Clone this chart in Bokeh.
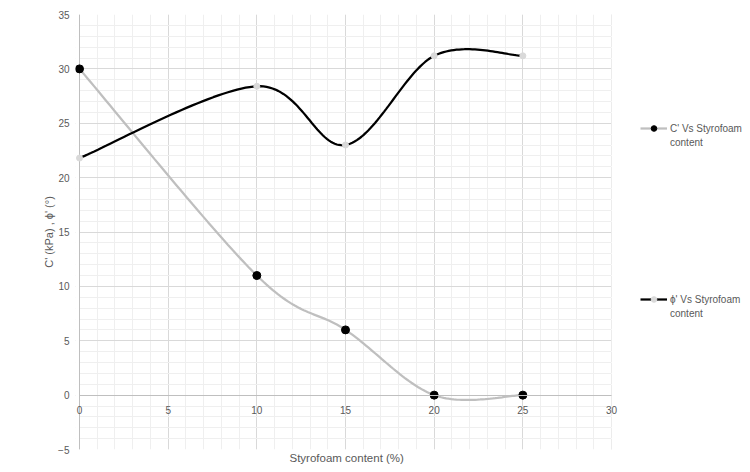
import numpy as np
from bokeh.plotting import figure
from bokeh.models import (SingleIntervalTicker, Range1d, Legend, LegendItem, Title,
                          BoxAnnotation, Span)
from bokeh.embed import file_html
from bokeh.resources import INLINE

# ---- data ----
content = [0, 10, 15, 20, 25]
c_values = [30, 11, 6, 0, 0]
phi_values = [21.8, 28.4, 23.0, 31.2, 31.2]
c_label = "C' Vs Styrofoam"
phi_label = "\u03d5' Vs Styrofoam"
x_title = "Styrofoam content (%)"
y_title = "C' (kPa) , \u03d5' (\u00b0)"
x_min, x_max = 0, 30
y_min, y_max = -5, 35

FONT = "Liberation Sans"
TXT = "#595959"

# layout (pixels)
W, H = 742, 464
FRAME_L = 75          # frame left edge (leaves room for the "0" tick label)
X0_PX, X30_PX = 79, 611
PPU = (X30_PX - X0_PX) / (x_max - x_min)
XPAD = (X0_PX - FRAME_L) / PPU
X_END = x_max + (W - X30_PX) / PPU


def smooth(xs, ys, n=40):
    """Excel-like smoothed line (Catmull-Rom cubic Bezier through the points)."""
    P = np.column_stack([xs, ys]).astype(float)
    m = len(P)
    out = []
    for i in range(m - 1):
        p0 = P[i - 1] if i > 0 else P[i]
        p1 = P[i]
        p2 = P[i + 1]
        p3 = P[i + 2] if i + 2 < m else P[i + 1]
        c1 = p1 + (p2 - p0) / 6.0
        c2 = p2 - (p3 - p1) / 6.0
        t = np.linspace(0, 1, n)[:, None]
        seg = ((1 - t) ** 3) * p1 + 3 * ((1 - t) ** 2) * t * c1 + 3 * (1 - t) * t ** 2 * c2 + t ** 3 * p2
        out.append(seg if i == 0 else seg[1:])
    s = np.vstack(out)
    return s[:, 0], s[:, 1]


p = figure(width=W, height=H, output_backend="svg", toolbar_location=None,
           x_range=Range1d(x_min - XPAD, X_END), y_range=Range1d(y_min, y_max),
           min_border_left=FRAME_L, min_border_right=0, min_border_top=14, min_border_bottom=15)
p.outline_line_color = None

# axes
p.xaxis.ticker = SingleIntervalTicker(interval=5, num_minor_ticks=5)
p.yaxis.ticker = SingleIntervalTicker(interval=5, num_minor_ticks=5)
p.xaxis.fixed_location = 0
p.xaxis.bounds = (x_min, x_max)
p.xaxis.axis_line_color = "#BFBFBF"
p.yaxis.axis_line_color = None
for ax in (p.xaxis, p.yaxis):
    ax.major_tick_line_color = None
    ax.minor_tick_line_color = None
    ax.major_label_text_font = FONT
    ax.major_label_text_font_size = "10px"
    ax.major_label_text_color = TXT
p.xaxis.major_label_standoff = 5
p.yaxis.major_label_standoff = 0
p.yaxis.axis_label = y_title
p.yaxis.axis_label_text_font = FONT
p.yaxis.axis_label_text_font_size = "11px"
p.yaxis.axis_label_text_font_style = "normal"
p.yaxis.axis_label_text_color = TXT
p.yaxis.axis_label_standoff = 0

# grid
p.xgrid.bounds = (x_min, x_max)
for g in (p.xgrid, p.ygrid):
    g.grid_line_color = "#D9D9D9"
    g.minor_grid_line_color = "#EFEFEF"

# hide horizontal grid outside the 0..30 span
p.add_layout(BoxAnnotation(right=x_min, fill_color="white", fill_alpha=1,
                           line_color=None, level="underlay"))
p.add_layout(BoxAnnotation(left=x_max, fill_color="white", fill_alpha=1,
                           line_color=None, level="underlay"))
p.add_layout(Span(location=x_min, dimension="height", line_color="#BFBFBF",
                  line_width=1, level="underlay"))

# x title below (placed under the 0..30 span)
p.add_layout(Title(text=x_title, align="left", offset=214, text_font=FONT,
                   text_font_size="11.5px", text_font_style="normal", text_color=TXT,
                   standoff=0), "below")

# series
cx, cy = smooth(content, c_values)
px_, py_ = smooth(content, phi_values)
c_line = p.line(cx, cy, line_color="#BFBFBF", line_width=2.25)
c_pts = p.scatter(content, c_values, size=8, fill_color="black", line_color="black")
phi_line = p.line(px_, py_, line_color="black", line_width=2.25)
phi_pts = p.scatter(content, phi_values, size=6, fill_color="#D9D9D9", line_color="#D9D9D9")

dummy = p.scatter([], [], alpha=0)


def make_legend(label, rends, loc):
    lg = Legend(items=[LegendItem(label=label, renderers=rends),
                       LegendItem(label="content", renderers=[dummy])],
                location=loc, padding=0, margin=0, spacing=0,
                glyph_width=27, glyph_height=14, label_height=14, label_standoff=3,
                border_line_color=None, background_fill_alpha=0,
                label_text_font=FONT, label_text_font_size="10px", label_text_color=TXT)
    p.add_layout(lg, "center")


make_legend(c_label, [c_line, c_pts], (565, 300))
make_legend(phi_label, [phi_line, phi_pts], (565, 129))

open("out.html", "w").write(file_html(p, INLINE))
